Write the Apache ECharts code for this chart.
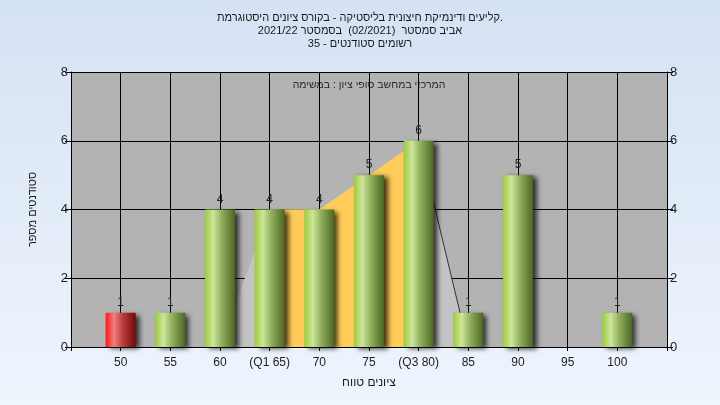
<!DOCTYPE html>
<html>
<head>
<meta charset="utf-8">
<script src="https://cdn.jsdelivr.net/npm/echarts@6/dist/echarts.min.js"></script>
<style>html,body{margin:0;padding:0;}#c{width:720px;height:405px;}</style>
</head>
<body>
<div id="c"></div>
<script>
// ---- data ----
var grades = [50, 55, 60, 65, 70, 75, 80, 85, 90, 95, 100];
var counts = [1, 1, 4, 4, 4, 5, 6, 1, 5, 0, 1];
var tickLabels = ['50', '55', '60', '(Q1 65)', '70', '75', '(Q3 80)', '85', '90', '95', '100'];
var spreadX = [60, 65, 70, 75, 80, 85];
var spreadY = [0, 4, 4, 5, 6, 0];
var iqrX = [65, 70, 75, 80];
var iqrY = [4, 4, 5, 6];
var titleLines = [
  'היסטוגרמת ציונים בקורס - בליסטיקה חיצונית ודינמיקת קליעים.',
  'בסמסטר  (02/2021)  סמסטר אביב 2021/22',
  'סטודנטים רשומים - 35'
];
var subText = 'במשימה : ציון סופי במחשב המרכזי';
var yName = 'מספר סטודנטים';
var xName = 'טווח ציונים';

// the reference lays the words out left to right; canvas uses a right-to-left
// base for Hebrew, so the word order is flipped here for display
function wordsLTR(s) {
  var end = '';
  if (s.slice(-1) === '.') { end = '.'; s = s.slice(0, -1); }
  return s.split(' ').reverse().join(' ') + end;
}

var FONT = 'Arial, "Liberation Sans", "DejaVu Sans", sans-serif';
var greenGrad = {type: 'linear', x: 0, y: 0, x2: 1, y2: 0, colorStops: [
  {offset: 0, color: '#9dcb3c'}, {offset: 0.28, color: '#cde69a'}, {offset: 0.55, color: '#93b060'}, {offset: 1, color: '#4c6622'}]};
var redGrad = {type: 'linear', x: 0, y: 0, x2: 1, y2: 0, colorStops: [
  {offset: 0, color: '#ff1414'}, {offset: 0.28, color: '#f08080'}, {offset: 0.55, color: '#c04040'}, {offset: 1, color: '#700808'}]};

var barData = grades.map(function (g, i) {
  return {value: [g, counts[i]], itemStyle: {color: g < 55 ? redGrad : greenGrad}};
});
var labelMap = {};
grades.forEach(function (g, i) { labelMap[g] = tickLabels[i]; });

var chart = echarts.init(document.getElementById('c'), null, {renderer: 'canvas'});
chart.setOption({
  animation: false,
  backgroundColor: {type: 'linear', x: 0, y: 0, x2: 0, y2: 1, colorStops: [
    {offset: 0, color: '#d5e2f4'}, {offset: 1, color: '#eff5fd'}]},
  textStyle: {fontFamily: FONT},
  title: {
    text: titleLines.map(wordsLTR).join('\n'),
    left: 'center', top: 6,
    textStyle: {fontSize: 11, fontWeight: 'normal', color: '#1a1a1a', lineHeight: 13, fontFamily: FONT}
  },
  graphic: [{
    type: 'text', x: 369, y: 80,
    style: {text: wordsLTR(subText), font: '10.5px ' + FONT, fill: '#2a2a2a', textAlign: 'center'}
  }],
  grid: {left: 71, right: 53, top: 72, bottom: 58, show: true, backgroundColor: '#b3b3b3', borderWidth: 0},
  xAxis: {
    type: 'value', min: 45, max: 105, interval: 5,
    name: wordsLTR(xName), nameLocation: 'middle', nameGap: 30,
    nameTextStyle: {fontSize: 12, color: '#1a1a1a'},
    axisLine: {show: true, lineStyle: {color: '#000', width: 1}},
    axisTick: {show: true, length: 4, lineStyle: {color: '#000'}},
    axisLabel: {fontSize: 12, color: '#222', margin: 10,
      formatter: function (v) { return labelMap[v] !== undefined ? labelMap[v] : ''; }},
    splitLine: {show: true, lineStyle: {color: '#000', width: 1}}
  },
  yAxis: [{
    type: 'value', min: 0, max: 8, interval: 2, position: 'left',
    name: wordsLTR(yName), nameLocation: 'middle', nameGap: 33,
    nameTextStyle: {fontSize: 11, color: '#1a1a1a'},
    axisLine: {show: true, lineStyle: {color: '#000'}},
    axisTick: {show: true, length: 6, lineStyle: {color: '#000'}},
    axisLabel: {fontSize: 13, color: '#222', margin: 3},
    splitLine: {show: true, lineStyle: {color: '#000', width: 1}}
  }, {
    type: 'value', min: 0, max: 8, interval: 2, position: 'right',
    axisLine: {show: true, lineStyle: {color: '#000'}},
    axisTick: {show: true, length: 6, lineStyle: {color: '#000'}},
    axisLabel: {fontSize: 13, color: '#222', margin: 3},
    splitLine: {show: false}
  }],
  series: [{
    type: 'line', z: 1,
    data: spreadX.map(function (x, i) { return [x, spreadY[i]]; }),
    symbol: 'none', lineStyle: {width: 0},
    areaStyle: {color: '#c3c3c3', opacity: 1}
  }, {
    type: 'line', z: 2,
    data: iqrX.map(function (x, i) { return [x, iqrY[i]]; }),
    symbol: 'none', lineStyle: {width: 0},
    areaStyle: {color: '#ffcc59', opacity: 1}
  }, {
    type: 'line', z: 2,
    data: [[spreadX[4], spreadY[4]], [spreadX[5], spreadY[5]]],
    symbol: 'none', lineStyle: {width: 1, color: '#333'}
  }, {
    type: 'bar', z: 5, barWidth: 30,
    data: barData,
    itemStyle: {shadowColor: 'rgba(0,0,0,0.75)', shadowBlur: 5, shadowOffsetX: 4, shadowOffsetY: 2},
    label: {show: true, position: 'top', distance: 4, fontSize: 12, color: '#222',
      formatter: function (p) { return p.value[1] ? String(p.value[1]) : ''; }}
  }]
});
</script>
</body>
</html>
